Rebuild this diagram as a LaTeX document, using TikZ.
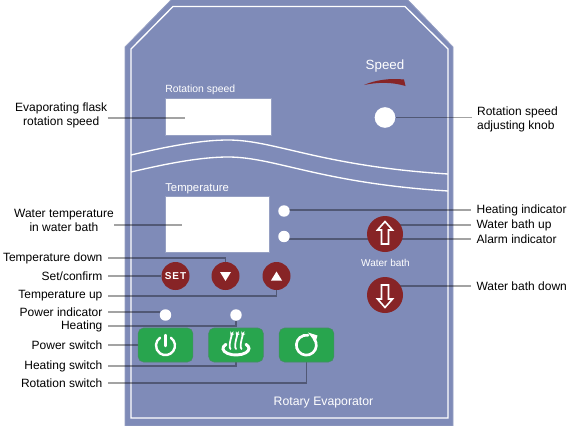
\documentclass[tikz,border=0pt]{standalone}
\usepackage{fontspec}
\setmainfont{Liberation Sans}
\newfontfamily\setfont[LetterSpace=9]{Liberation Sans}
\usetikzlibrary{arrows.meta,positioning,calc,backgrounds}
\definecolor{PanelC}{RGB}{127,139,184}
\definecolor{EdgeC}{RGB}{150,160,195}
\definecolor{BtnRed}{RGB}{135,36,38}
\definecolor{BtnGreen}{RGB}{40,165,78}
\definecolor{BtnEdge}{RGB}{70,140,100}
\tikzset{
  leader/.style={draw=black,draw opacity=0.36,line width=0.8pt},
  lab/.style={font=\fontsize{9}{10.5}\selectfont,inner sep=4pt,text=black},
  labl/.style={lab,anchor=east},
  labr/.style={lab,anchor=west},
  paneltxt/.style={text=white,inner sep=0pt},
  wline/.style={draw=white,line width=1pt},
  lcd/.style={rectangle,fill=white,draw=EdgeC,line width=0.4pt,inner sep=0pt,anchor=north west},
  lamp/.style={circle,fill=white,minimum size=8.6pt,inner sep=0pt},
  redbtn/.style={circle,fill=BtnRed,minimum size=21pt,inner sep=0pt},
  bathbtn/.style={circle,fill=BtnRed,minimum size=27pt,inner sep=0pt},
  greenbtn/.style={rectangle,rounded corners=4pt,fill=BtnGreen,draw=BtnEdge,line width=0.4pt,
                   minimum width=41pt,minimum height=25.5pt,inner sep=0pt},
  icon/.style={draw=white,line width=1.8pt,line cap=round},
  arrowic/.style={draw=white,line width=1.2pt,fill=BtnRed,line join=miter},
}
\begin{document}
\begin{tikzpicture}[x=0.75pt,y=-0.75pt]
  \useasboundingbox (0,0) rectangle (577,425);

  % buttons and lamps
  \node[redbtn,font=\setfont\bfseries\fontsize{7.5}{8}\selectfont,text=white] (set) at (175.5,276) {SET};
  \node[redbtn] (tdown) at (225.5,276) {};
  \node[redbtn] (tup) at (276.5,276) {};
  \node[bathbtn] (bup) at (385,234) {};
  \node[bathbtn] (bdown) at (385,295) {};
  \node[lamp] (knob) at (385,117.5) [minimum size=15.5pt] {};
  \node[lamp] (lheat) at (284,211) {};
  \node[lamp] (lalarm) at (284,236.5) {};
  \node[lamp] (lpower) at (165.5,315) {};
  \node[lamp] (lheating) at (236,315) {};
  \node[greenbtn] (swpower) at (165.5,345) {};
  \node[greenbtn] (swheat) at (236,345) {};
  \node[greenbtn] (swrot) at (306.5,345) {};

  % labels left
  \foreach \nm/\y/\txt in {ltdown/258/Temperature down,lset/276/Set\slash confirm,ltup/296/Temperature up,
      lpind/312/Power indicator,lhtg/326/Heating,lpsw/345/Power switch,lhsw/366/Heating switch,lrsw/383/Rotation switch}
    \node[labl] (\nm) at (108,\y) {\txt};
  \node[labl,align=center,inner sep=0pt] (lflask) at (107.5,115) {Evaporating flask\\rotation speed};
  \node[labl,align=center,inner sep=0pt] (lwater) at (114,220) {Water temperature\\in water bath};

  % labels right
  \node[labr,align=left] (rknob) at (471.5,119) {Rotation speed\\adjusting knob};
  \foreach \nm/\y/\txt in {rheat/210/Heating indicator,rbup/225/Water bath up,ralarm/239/Alarm indicator,rbdown/286/Water bath down}
    \node[labr] (\nm) at (471,\y) {\txt};

  \begin{scope}[on background layer]
    % panel
    \path[fill=PanelC,draw=EdgeC,line width=0.6pt] (125,47) -- (172,-1) -- (407,-1) -- (453,47)
      -- (453,426) -- (125,426) -- cycle;
    \draw[wline] (131,49) -- (173,6.5) -- (405,6.5) -- (448,49) -- (448,418) -- (131,418) -- cycle;
    \draw[wline] (131,155) .. controls (165,147) and (200,140) .. (228,140)
      .. controls (275,140) and (320,166) .. (448,174);
    \draw[wline] (131,172) .. controls (165,164) and (200,157) .. (228,157)
      .. controls (275,157) and (320,183) .. (448,191);
    \fill[BtnRed] (364,85) .. controls (375,80) and (390,78) .. (404,79.5) -- (405.5,86)
      .. controls (392,82) and (378,82) .. (364,85) -- cycle;
    % screens
    \node[lcd,minimum width=79.5pt,minimum height=28pt] (scr1) at (165,98) {};
    \node[lcd,minimum width=78pt,minimum height=42pt] (scr2) at (165,196) {};
    \coordinate (scr1in) at (185,118);
    \coordinate (scr2in) at (182,225);
    % leaders
    \draw[leader] (lflask.east |- scr1in) -- (scr1in);
    \draw[leader] (lwater.east |- scr2in) -- (scr2in);
    \draw[leader] (rknob.west |- knob) -- (knob);
    \draw[leader] (ltdown) -| (tdown.north);
    \draw[leader] (lset) -- (set);
    \draw[leader] (ltup) -| (tup.south);
    \draw[leader] (lpind) -- (lpind -| lpower.west);
    \draw[leader] (lhtg) -| (lheating.south);
    \draw[leader] (lpsw) -- (swpower);
    \draw[leader] (lhsw) -| (swheat.south);
    \draw[leader] (lrsw) -| (swrot.south);
    \draw[leader] (rheat) -- (rheat -| lheat);
    \draw[leader] (rbup) -- (rbup -| bup);
    \draw[leader] (ralarm) -- (ralarm -| lalarm);
    \draw[leader] (rbdown) -- (rbdown -| bdown);
  \end{scope}

  % panel text
  \node[paneltxt,font=\fontsize{7.8}{9}\selectfont,anchor=west] (t1) at (165,89.5) {Rotation speed};
  \node[paneltxt,font=\fontsize{8.5}{10}\selectfont,anchor=west] (t2) at (165,188.5) {Temperature};
  \node[paneltxt,font=\fontsize{10}{12}\selectfont] (t3) at (385,66.5) {Speed};
  \node[paneltxt,font=\fontsize{7.5}{9}\selectfont] (t4) at (385.5,263) {Water bath};
  \node[paneltxt,font=\fontsize{9.2}{11}\selectfont] (t5) at (323.5,403) {Rotary Evaporator};

  % button glyphs
  \fill[white] ($(tdown)+(-5.5,-4)$) -- ++(11,0) -- ++(-5.5,9) -- cycle;
  \fill[white] ($(tup)+(-5.5,4.5)$) -- ++(11,0) -- ++(-5.5,-9) -- cycle;
  \draw[arrowic] ($(bup)+(-3.5,10)$) -- ++(7,0) -- ++(0,-14) -- ++(4,0) -- ++(-7.5,-8.5)
    -- ++(-7.5,8.5) -- ++(4,0) -- cycle;
  \draw[arrowic] ($(bdown)+(-3.5,-10)$) -- ++(7,0) -- ++(0,14) -- ++(4,0) -- ++(-7.5,8.5)
    -- ++(-7.5,-8.5) -- ++(4,0) -- cycle;
  % power
  \draw[icon] ($(swpower)+(5.4,-7.2)$) arc[start angle=-55,end angle=235,radius=9.5];
  \draw[icon] ($(swpower)+(0,-10)$) -- ++(0,11);
  % heat
  \foreach \dx in {-5.5,0,5.5}
    \draw[icon,line width=1.3pt,-{Stealth[length=3pt,width=3.6pt]}] ($(swheat)+(\dx,4)$)
      .. controls +(-3,-3) and +(3,-5) .. ++(0,-13);
  \draw[icon,line width=2.2pt] ($(swheat)+(-10,-0.7)$) arc[start angle=220,end angle=-40,x radius=13,y radius=6.5];
  % rotation
  \draw[icon,line width=2pt] ($(swrot)+(7.5,-6.3)$) arc[start angle=-40,end angle=280,radius=10];
  \fill[white] ($(swrot)+(1.5,-12.5)$) -- ++(9.5,3) -- ++(-2,7) -- cycle;
\end{tikzpicture}
\end{document}
